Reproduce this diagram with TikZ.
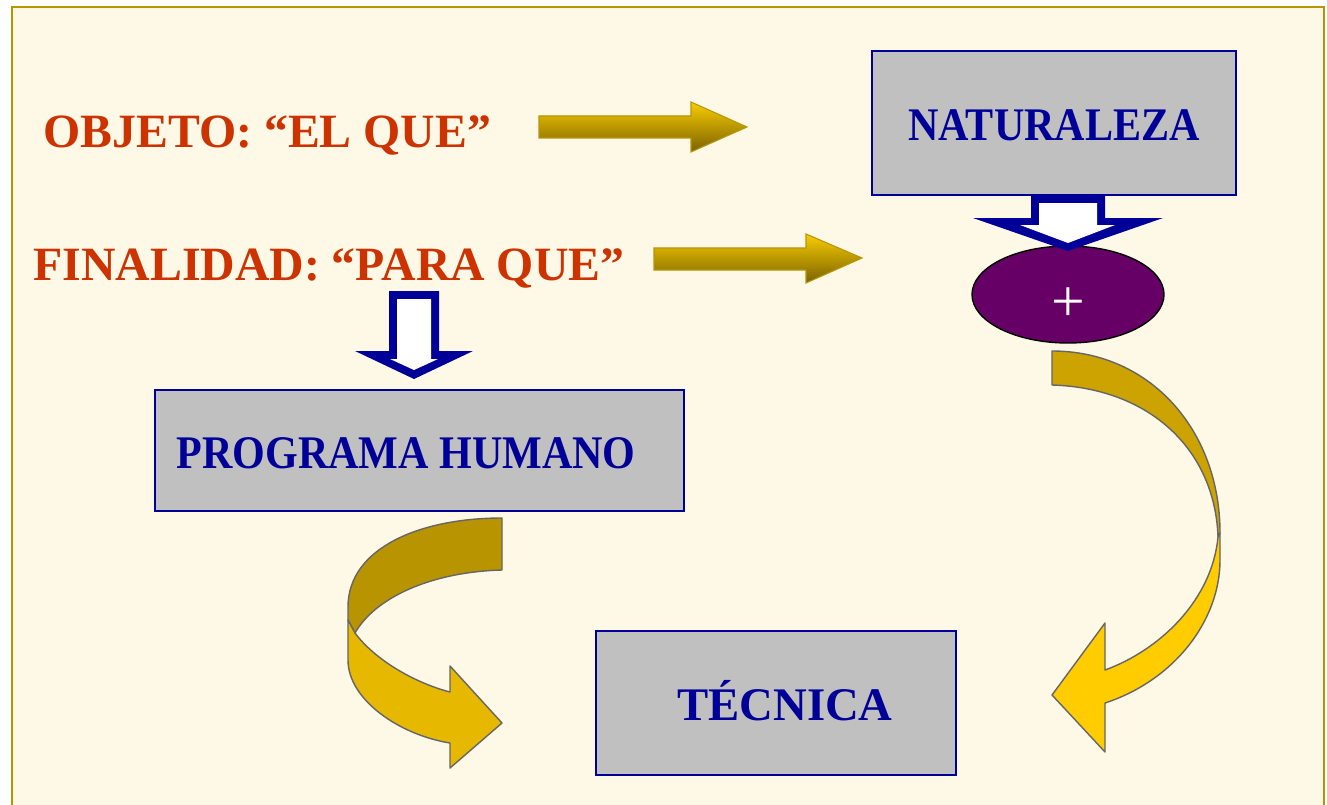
\documentclass[tikz,border=0pt]{standalone}
\usepackage{fontspec}
\setmainfont{Liberation Serif}
\newfontfamily\condfont[FakeStretch=0.9]{Liberation Serif}
\usetikzlibrary{shapes.geometric}
\definecolor{bg}{HTML}{FEF8E6}
\definecolor{framec}{HTML}{B89600}
\definecolor{nblue}{HTML}{000099}
\definecolor{boxgray}{HTML}{C0C0C0}
\definecolor{redc}{HTML}{CC3300}
\definecolor{purp}{HTML}{660066}
\definecolor{gtop}{HTML}{F8CC00}
\definecolor{gbot}{HTML}{7A6200}
\definecolor{goldline}{HTML}{B8960A}
\definecolor{lback}{HTML}{B89400}
\definecolor{lfront}{HTML}{E6B800}
\definecolor{rback}{HTML}{CCA300}
\definecolor{rfront}{HTML}{FFCC00}
\definecolor{curvegray}{HTML}{666666}
\newcommand\pxu{0.02cm}
\begin{document}
\begin{tikzpicture}[x=0.02cm,y=-0.02cm,
  boxst/.style={draw=nblue, line width=1.4pt, fill=boxgray, inner sep=0pt, text=nblue, text height=20pt, text depth=0pt},
  redtxt/.style={text=redc, font=\bfseries\fontsize{27.2}{32}\selectfont, inner sep=0pt, anchor=base west},
  garrow/.style={draw=goldline, line width=0.6pt, top color=gtop, bottom color=gbot},
  curvest/.style={draw=curvegray, line width=0.8pt, line join=round},
  hollowout/.style={fill=nblue},
  hollowin/.style={fill=white}]
\useasboundingbox (0,0) rectangle (1327,804);
\fill[white] (0,0) rectangle (1327,804);
\fill[bg] (12,7) rectangle (1324,810);
\draw[framec, line width=1pt] (12,812) -- (12,7) -- (1324,7) -- (1324,812);

% texts
\node[redtxt] (obj) at (43,148) {OBJETO: “EL QUE”};
\node[redtxt] (fin) at (33,280) {FINALIDAD: “PARA QUE”};

% straight arrows
\draw[garrow] (539,116) -- (691,116) -- (691,102) -- (747,127) -- (691,152) -- (691,138) -- (539,138) -- cycle;
\draw[garrow] (654,248) -- (806,248) -- (806,234) -- (862,258) -- (806,283) -- (806,270) -- (654,270) -- cycle;

% left curved arrow
\draw[curvest, fill=lback] (502,518) .. controls (420,518) and (348,548) .. (348,607) -- (348,620) -- (355,633) .. controls (375,598) and (430,572) .. (502,570) -- cycle;
\draw[curvest, fill=lfront] (348,620) -- (348,660) .. controls (348,700) and (400,735) .. (450,743) -- (450,768) -- (502,723) -- (450,666) -- (450,692) .. controls (415,683) and (375,660) .. (355,633) -- cycle;

% right curved arrow
\draw[curvest, fill=rback] (1052,351) .. controls (1150,351) and (1220,430) .. (1220,533) -- (1218,537) .. controls (1215,450) and (1150,388) .. (1052,385) -- cycle;
\draw[curvest, fill=rfront] (1220,533) -- (1220,560) .. controls (1220,620) and (1175,680) .. (1105,703) -- (1105,752) -- (1052,695) -- (1105,623) -- (1105,670) .. controls (1160,650) and (1212,600) .. (1218,537) -- cycle;

% boxes
\node[boxst, minimum width={364*\pxu}, minimum height={144*\pxu}, font=\condfont\bfseries\fontsize{26.6}{30}\selectfont] (nat) at (1054,123) {NATURALEZA};
\node[boxst, minimum width={529*\pxu}, minimum height={121*\pxu}, font=\condfont\bfseries\fontsize{26.6}{30}\selectfont] (prog) at (419.5,450.5) {PROGRAMA HUMANO\hspace*{15.3pt}};
\node[boxst, minimum width={360*\pxu}, minimum height={144*\pxu}, font=\bfseries\fontsize{26.6}{30}\selectfont] (tec) at (776,703) {\hspace*{10.2pt}TÉCNICA};

% ellipse
\node[ellipse, draw=black, line width=0.8pt, fill=purp, minimum width={192*\pxu}, minimum height={97*\pxu}, inner sep=0pt, text=white, font=\fontsize{34}{38}\selectfont, text height=31pt, text depth=0pt] (plus) at (1068,294.5) {+};

% hollow arrows
\fill[hollowout] (1031,195) -- (1105,195) -- (1105,218) -- (1163,218) -- (1068,251) -- (973,218) -- (1031,218) -- cycle;
\fill[hollowin] (1039,203) -- (1097,203) -- (1097,225) -- (1115,225) -- (1068,243) -- (1020,225) -- (1039,225) -- cycle;
\fill[hollowout] (389,291) -- (439,291) -- (439,351) -- (473,351) -- (414,379) -- (355,351) -- (389,351) -- cycle;
\fill[hollowin] (397,299) -- (431,299) -- (431,359) -- (438,359) -- (414,370) -- (390,359) -- (397,359) -- cycle;
\end{tikzpicture}
\end{document}
